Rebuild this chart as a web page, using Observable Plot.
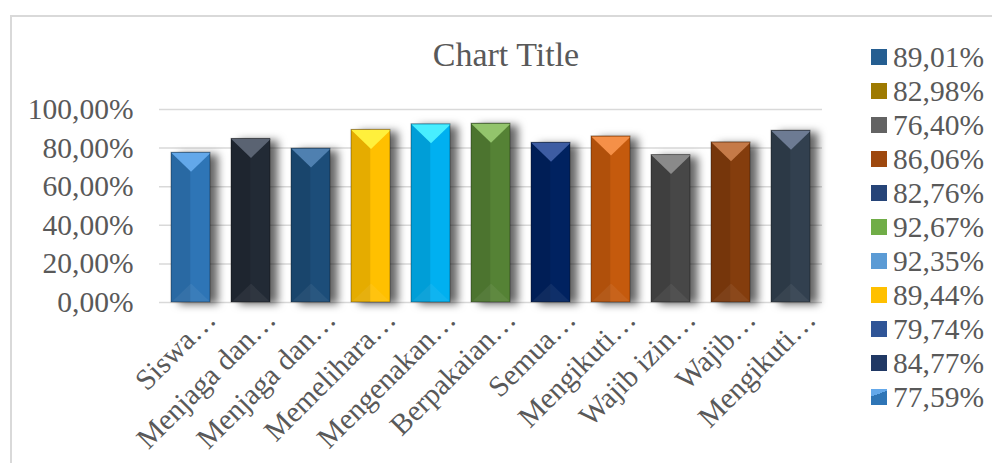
<!DOCTYPE html>
<html>
<head>
<meta charset="utf-8">
<script src="https://cdn.jsdelivr.net/npm/d3@7"></script>
<script src="https://cdn.jsdelivr.net/npm/@observablehq/plot@0.6"></script>
<style>
  html, body { margin: 0; padding: 0; background: #fff; }
  #wrap { position: relative; width: 992px; height: 463px; overflow: hidden; font-family: "Liberation Serif", "Times New Roman", serif; color: #595959; }
  #frame { position: absolute; left: 10px; top: 15px; width: 1100px; height: 600px; border-left: 2px solid #d9d9d9; border-top: 2px solid #d9d9d9; }
  #title { position: absolute; left: 0; width: 1012px; top: 38px; text-align: center; font-size: 34px; line-height: 34px; }
  #chart { position: absolute; left: 0; top: 0; }
  #legend { position: absolute; left: 871px; top: 40px; }
  .item { display: flex; align-items: center; height: 34px; font-size: 29.5px; line-height: 34px; white-space: nowrap; }
  .sw { width: 16px; height: 16px; margin-right: 6px; flex: none; }
</style>
</head>
<body>
<div id="wrap">
  <div id="frame"></div>
  <div id="title">Chart Title</div>
  <div id="chart"></div>
  <div id="legend"></div>
</div>
<script>
// Categories (truncated labels as shown under each bar)
const labels = ["Siswa…", "Menjaga dan…", "Menjaga dan…", "Memelihara…", "Mengenakan…", "Berpakaian…", "Semua…", "Mengikuti…", "Wajib izin…", "Wajib…", "Mengikuti…"];
// One series per category: share of compliance
const values = [0.7759, 0.8477, 0.7974, 0.8944, 0.9235, 0.9267, 0.8276, 0.8606, 0.7640, 0.8298, 0.8901];
// Bar face colours and their lighter top bevel
const barColors = ["#2E75B6", "#222A35", "#1F4E79", "#FFC000", "#00B0F0", "#548235", "#002060", "#C55A11", "#474747", "#843C0C", "#333F50"];
const bevelColors = ["#63A8EA", "#5A6372", "#4F80B0", "#FFF03C", "#48EEFF", "#93C46C", "#3D5CA2", "#F59048", "#8A8A8A", "#C57A48", "#6D7B93"];
// Legend swatch colours per series
const legendColors = ["#2E75B6", "#203864", "#2F5597", "#FFC000", "#5B9BD5", "#70AD47", "#264478", "#9E480E", "#636363", "#9E7A00", "#255E91"];
const yTicks = [0, 0.2, 0.4, 0.6, 0.8, 1.0];

const pct = v => (v * 100).toFixed(2).replace(".", ",") + "%";

const data = values.map((v, i) => ({i, v, fill: barColors[i], bevel: bevelColors[i]}));

const halfBar = 19.7;
const bevelDepth = 19;
const topBevel = {draw(ctx) { ctx.moveTo(-halfBar, 0); ctx.lineTo(halfBar, 0); ctx.lineTo(0, bevelDepth); ctx.closePath(); }};
const bottomBevel = {draw(ctx) { ctx.moveTo(-halfBar, 0); ctx.lineTo(halfBar, 0); ctx.lineTo(0, -bevelDepth); ctx.closePath(); }};

const chart = Plot.plot({
  width: 992,
  height: 463,
  marginTop: 109,
  marginBottom: 161,
  marginLeft: 159,
  marginRight: 170,
  style: {fontFamily: "'Liberation Serif', 'Times New Roman', serif", fontSize: "29.5px", color: "#595959", background: "transparent", overflow: "visible"},
  x: {domain: d3.range(labels.length), paddingInner: 0.345, paddingOuter: 0.1725},
  y: {domain: [0, 1]},
  color: {type: "identity"},
  marks: [
    Plot.gridY(yTicks, {stroke: "#d9d9d9", strokeOpacity: 1, strokeWidth: 1.5}),
    Plot.axisY({ticks: yTicks, tickFormat: pct, tickSize: 0, tickPadding: 26, label: null}),
    Plot.axisX({tickFormat: i => labels[i], tickRotate: -45, tickSize: 0, tickPadding: 12, textAnchor: "end", lineAnchor: "middle", dx: 20, label: null}),
    Plot.barY(data, {x: "i", y: "v", fill: "fill", className: "shadowed"}),
    // darker left face of each bar
    Plot.barY(data, {x: "i", y: "v", fill: "black", fillOpacity: 0.1, insetRight: halfBar}),
    Plot.dot(data, {x: "i", y: "v", symbol: topBevel, r: 10, fill: "bevel", stroke: null}),
    Plot.dot(data, {x: "i", y: () => 0, symbol: bottomBevel, r: 10, fill: "white", fillOpacity: 0.06, stroke: null}),
    Plot.barY(data, {x: "i", y: "v", fill: "none", stroke: "black", strokeOpacity: 0.35, strokeWidth: 1})
  ]
});

// soft drop shadow to the right of the bars
const ns = "http://www.w3.org/2000/svg";
const defs = document.createElementNS(ns, "defs");
defs.innerHTML = '<filter id="barShadow" x="-30%" y="-10%" width="180%" height="130%"><feDropShadow dx="8" dy="2" stdDeviation="4" flood-color="#000" flood-opacity="0.6"/></filter>';
chart.insertBefore(defs, chart.firstChild);
chart.querySelectorAll("g.shadowed, g[class*='shadowed']").forEach(g => g.setAttribute("filter", "url(#barShadow)"));
document.getElementById("chart").appendChild(chart);

// legend lists the series in reverse order
const legend = document.getElementById("legend");
for (let k = values.length - 1; k >= 0; k--) {
  const item = document.createElement("div");
  item.className = "item";
  const sw = document.createElement("div");
  sw.className = "sw";
  if (k === 0) {
    sw.style.background = `linear-gradient(160deg, ${bevelColors[0]} 0 35%, ${barColors[0]} 35%)`;
  } else {
    sw.style.background = legendColors[k];
  }
  item.appendChild(sw);
  item.appendChild(document.createTextNode(pct(values[k])));
  legend.appendChild(item);
}
</script>
</body>
</html>
